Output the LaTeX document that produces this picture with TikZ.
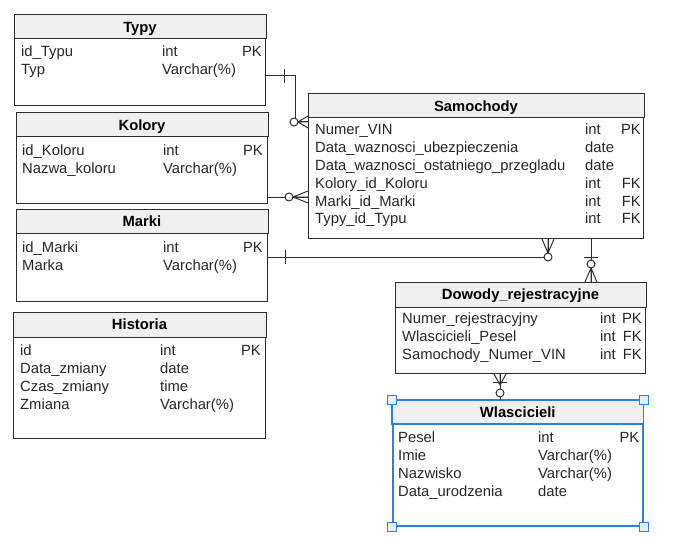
\documentclass[tikz,border=0pt]{standalone}
\usepackage{fontspec}
\setmainfont{Liberation Sans}
\usetikzlibrary{calc}
\definecolor{headgray}{RGB}{240,240,240}
\definecolor{linegray}{RGB}{45,45,45}
\definecolor{selblue}{RGB}{41,128,230}
\definecolor{handlefill}{RGB}{228,240,255}
\tikzset{
  tbl/.style={draw=linegray, line width=1pt, anchor=north west, inner sep=0pt},
  head/.style={fill=headgray, draw=linegray, line width=1pt},
  title/.style={font=\bfseries\fontsize{14.8}{18}\selectfont, inner sep=0pt, text height=10.6pt, text depth=0pt},
  field/.style={font=\fontsize{14.8}{18}\selectfont, text=black!85, inner sep=0pt, anchor=base west},
  key/.style={field, anchor=base east},
  conn/.style={draw=linegray, line width=1pt},
  handle/.style={draw=selblue, fill=handlefill, line width=1pt, minimum size=9pt, inner sep=0pt},
  pics/zeromany/.style n args={2}{code={
    \draw[conn] (-#1,0) -- (0,-6) (-#1,0) -- (0,0) (-#1,0) -- (0,6);
    \draw[conn, fill=white] (-#2,0) circle[radius=4pt];
  }},
  pics/onebar/.style={code={\draw[conn] (0,-7) -- (0,7);}},
}
\begin{document}
\begin{tikzpicture}[x=1pt,y=-1pt]
  \useasboundingbox (0,0) rectangle (685,559);
  %% Tables
  \node[tbl, minimum width=251pt, minimum height=90pt] (typy) at (14,15) {};
  \draw[head] (typy.north west) rectangle ($(typy.north east)+(0,24)$);
  \node[title] (typy-title) at ($(typy.north)+(0,12)$) {Typy};
  \foreach \n/\t/\k [count=\i] in {id\_Typu/int/PK, Typ/Varchar(\%)/}{
    \node[field] (typy-f\i) at ($(typy.north west)+(7,24+18*\i)$) {\n};
    \node[field] (typy-t\i) at ($(typy.north west)+(148,24+18*\i)$) {\t};
    \node[key] (typy-k\i) at ($(typy.north east)+(-4,24+18*\i)$) {\k};
  }

  \node[tbl, minimum width=251pt, minimum height=90pt] (kolory) at (16,113) {};
  \draw[head] (kolory.north west) rectangle ($(kolory.north east)+(0,24)$);
  \node[title] (kolory-title) at ($(kolory.north)+(0,12)$) {Kolory};
  \foreach \n/\t/\k [count=\i] in {id\_Koloru/int/PK, Nazwa\_koloru/Varchar(\%)/}{
    \node[field] (kolory-f\i) at ($(kolory.north west)+(6,24+18*\i)$) {\n};
    \node[field] (kolory-t\i) at ($(kolory.north west)+(147,24+18*\i)$) {\t};
    \node[key] (kolory-k\i) at ($(kolory.north east)+(-5,24+18*\i)$) {\k};
  }

  \node[tbl, minimum width=251pt, minimum height=92pt] (marki) at (16,209) {};
  \draw[head] (marki.north west) rectangle ($(marki.north east)+(0,24)$);
  \node[title] (marki-title) at ($(marki.north)+(0,12)$) {Marki};
  \foreach \n/\t/\k [count=\i] in {id\_Marki/int/PK, Marka/Varchar(\%)/}{
    \node[field] (marki-f\i) at ($(marki.north west)+(6,25+18*\i)$) {\n};
    \node[field] (marki-t\i) at ($(marki.north west)+(147,25+18*\i)$) {\t};
    \node[key] (marki-k\i) at ($(marki.north east)+(-5,25+18*\i)$) {\k};
  }

  \node[tbl, minimum width=252pt, minimum height=126pt] (historia) at (13,312) {};
  \draw[head] (historia.north west) rectangle ($(historia.north east)+(0,25)$);
  \node[title] (historia-title) at ($(historia.north)+(0,12.5)$) {Historia};
  \foreach \n/\t/\k [count=\i] in {id/int/PK, Data\_zmiany/date/, Czas\_zmiany/time/, Zmiana/Varchar(\%)/}{
    \node[field] (historia-f\i) at ($(historia.north west)+(7,25+18*\i)$) {\n};
    \node[field] (historia-t\i) at ($(historia.north west)+(147,25+18*\i)$) {\t};
    \node[key] (historia-k\i) at ($(historia.north east)+(-5,25+18*\i)$) {\k};
  }

  \node[tbl, minimum width=335pt, minimum height=144pt] (samochody) at (308,94) {};
  \draw[head] (samochody.north west) rectangle ($(samochody.north east)+(0,24)$);
  \node[title] (samochody-title) at ($(samochody.north)+(0,12)$) {Samochody};
  \foreach \n/\t/\k [count=\i] in {Numer\_VIN/int/PK, Data\_waznosci\_ubezpieczenia/date/,
      Data\_waznosci\_ostatniego\_przegladu/date/, Kolory\_id\_Koloru/int/FK,
      Marki\_id\_Marki/int/FK, Typy\_id\_Typu/int/FK}{
    \node[field] (samochody-f\i) at ($(samochody.north west)+(7,23+17.8*\i)$) {\n};
    \node[field] (samochody-t\i) at ($(samochody.north west)+(277,23+17.8*\i)$) {\t};
    \node[key] (samochody-k\i) at ($(samochody.north east)+(-3,23+17.8*\i)$) {\k};
  }

  \node[tbl, minimum width=250pt, minimum height=91pt] (dowody) at (395,282) {};
  \draw[head] (dowody.north west) rectangle ($(dowody.north east)+(0,25)$);
  \node[title] (dowody-title) at ($(dowody.north)+(0,12.5)$) {Dowody\_rejestracyjne};
  \foreach \n/\t/\k [count=\i] in {Numer\_rejestracyjny/int/PK, Wlascicieli\_Pesel/int/FK,
      Samochody\_Numer\_VIN/int/FK}{
    \node[field] (dowody-f\i) at ($(dowody.north west)+(7,23+18*\i)$) {\n};
    \node[field] (dowody-t\i) at ($(dowody.north west)+(205,23+18*\i)$) {\t};
    \node[key] (dowody-k\i) at ($(dowody.north east)+(-4,23+18*\i)$) {\k};
  }

  %% Selected table
  \node[tbl, draw=selblue, line width=1.5pt, minimum width=250pt, minimum height=125pt] (wlascicieli) at (392,400) {};
  \draw[head, draw=selblue, line width=1.5pt] (wlascicieli.north west) rectangle ($(wlascicieli.north east)+(0,24)$);
  \node[title] (wlascicieli-title) at ($(wlascicieli.north)+(0,12)$) {Wlascicieli};
  \foreach \n/\t/\k [count=\i] in {Pesel/int/PK, Imie/Varchar(\%)/, Nazwisko/Varchar(\%)/,
      Data\_urodzenia/date/}{
    \node[field] (wlascicieli-f\i) at ($(wlascicieli.north west)+(6,24+18*\i)$) {\n};
    \node[field] (wlascicieli-t\i) at ($(wlascicieli.north west)+(146,24+18*\i)$) {\t};
    \node[key] (wlascicieli-k\i) at ($(wlascicieli.north east)+(-4,24+18*\i)$) {\k};
  }
  \foreach \c [count=\i] in {north west, north east, south west, south east}
    \node[handle] (handle\i) at (wlascicieli.\c) {};

  %% Relations
  \coordinate (typy-out) at ($(typy.north east)+(0,61)$);
  \coordinate (samochody-in1) at ($(samochody.north west)+(0,28)$);
  \draw[conn] (typy-out) -- ++(29,0) |- (samochody-in1);
  \path (samochody-in1) pic {zeromany={10}{14}};
  \path ($(typy-out)+(18,0)$) pic {onebar};

  \coordinate (kolory-out) at ($(kolory.north east)+(0,84)$);
  \draw[conn] (kolory-out) -- (kolory-out -| samochody.west);
  \path (kolory-out -| samochody.west) pic {zeromany={15}{19}};

  \coordinate (marki-out) at ($(marki.north east)+(0,48)$);
  \coordinate (samochody-in3) at ($(samochody.south west)+(240,0)$);
  \draw[conn] (marki-out) -| (samochody-in3);
  \path (samochody-in3) pic[rotate=90] {zeromany={14}{18}};
  \path ($(marki-out)+(17,0)$) pic {onebar};

  \coordinate (samochody-out) at ($(samochody.south west)+(283,0)$);
  \draw[conn] (samochody-out) -- (samochody-out |- dowody.north);
  \path (samochody-out |- dowody.north) pic[rotate=-90] {zeromany={14}{18}};
  \path ($(samochody-out |- dowody.north)+(0,-25)$) pic[rotate=90] {onebar};

  \coordinate (dowody-out) at ($(dowody.south west)+(105,0)$);
  \draw[conn] (dowody-out) -- (dowody-out |- wlascicieli.north);
  \path (dowody-out) pic[rotate=90] {zeromany={11}{19}};
  \path ($(dowody-out)+(0,8)$) pic[rotate=90] {onebar};
\end{tikzpicture}
\end{document}
